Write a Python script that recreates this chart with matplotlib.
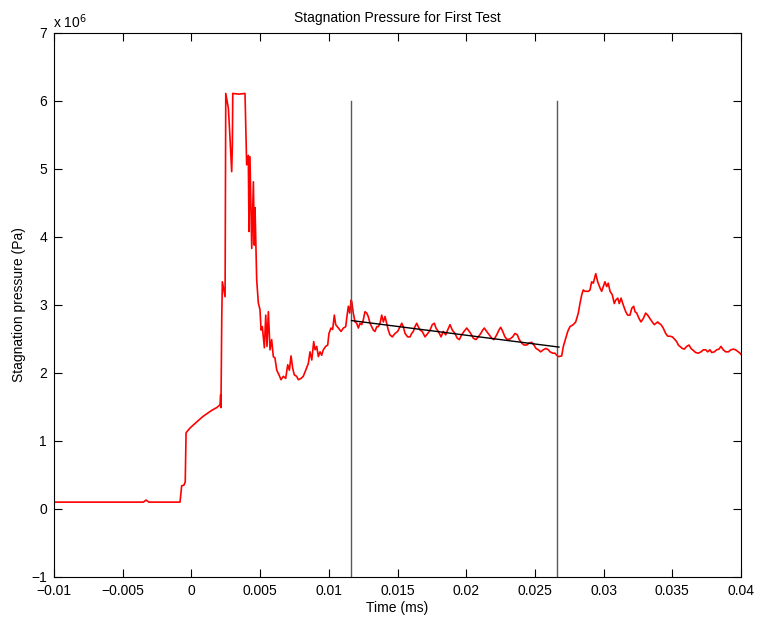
import matplotlib
matplotlib.use("Agg")
import matplotlib.pyplot as plt

plt.rcParams['font.family'] = ['Liberation Sans', 'DejaVu Sans']

# time in ms (plotted in s), pressure in MPa (plotted in Pa)
t_ms = [-10, -8, -6, -4, -3.5, -3.3, -3.1, -2, -0.85,
        -0.83, -0.71, -0.54, -0.45, -0.39, -0.10, 0.39, 0.84, 1.48, 1.84,
        2.08, 2.13, 2.15, 2.21, 2.25, 2.45, 2.50, 2.69, 2.81, 2.93, 2.98,
        3.01, 3.45, 3.90, 4.02, 4.14, 4.19, 4.26, 4.39, 4.51, 4.58, 4.63,
        4.75, 4.87, 4.99, 5.07, 5.16, 5.31, 5.41, 5.50, 5.60, 5.72, 5.84,
        5.96, 6.08, 6.21, 6.38, 6.52, 6.69, 6.86, 7.01, 7.13, 7.25, 7.37,
        7.49, 7.66, 7.78, 7.98, 8.14, 8.32, 8.51, 8.63, 8.76, 8.90, 9.00,
        9.12, 9.24, 9.36, 9.48, 9.60, 9.77, 9.92, 10.01, 10.16, 10.28,
        10.40, 10.50, 10.69, 10.89, 11.06, 11.23, 11.32, 11.42, 11.52,
        11.62, 11.67, 11.78, 11.91, 12.03, 12.15, 12.27, 12.39, 12.51,
        12.63, 12.76, 12.87, 13.00, 13.12, 13.24, 13.36, 13.49, 13.60,
        13.73, 13.85, 13.97, 14.09, 14.21, 14.33, 14.45, 14.62, 14.82,
        15.01, 15.18, 15.31, 15.42, 15.55, 15.74, 15.91, 16.03, 16.15,
        16.27, 16.40, 16.51, 16.64, 16.80, 17.00, 17.20, 17.37, 17.53,
        17.68, 17.80, 17.97, 18.17, 18.33, 18.51, 18.65, 18.82, 18.99,
        19.18, 19.35, 19.50, 19.67, 19.84, 20.04, 20.15, 20.33, 20.52,
        20.71, 20.88, 21.06, 21.20, 21.32, 21.49, 21.68, 21.86, 22.02,
        22.22, 22.41, 22.51, 22.66, 22.82, 22.99, 23.19, 23.38, 23.55,
        23.72, 23.86, 24.04, 24.21, 24.40, 24.59, 24.77, 24.93, 25.08,
        25.25, 25.42, 25.61, 25.81, 25.98, 26.10, 26.30, 26.46, 26.59,
        26.73, 26.95, 27.07, 27.24, 27.39, 27.55, 27.79, 27.97, 28.16,
        28.28, 28.41, 28.52, 28.65, 28.89, 29.01, 29.13, 29.25, 29.43,
        29.57, 29.74, 29.86, 29.98, 30.10, 30.23, 30.34, 30.47, 30.63,
        30.78, 30.88, 31.03, 31.14, 31.27, 31.43, 31.61, 31.75, 31.92,
        32.05, 32.19, 32.29, 32.41, 32.58, 32.72, 32.89, 33.06, 33.21,
        33.37, 33.54, 33.69, 33.94, 34.03, 34.18, 34.34, 34.52, 34.67,
        34.83, 35.00, 35.15, 35.32, 35.44, 35.56, 35.73, 35.87, 36.05,
        36.22, 36.36, 36.53, 36.70, 36.89, 37.09, 37.26, 37.43, 37.58,
        37.74, 37.87, 38.06, 38.23, 38.40, 38.54, 38.71, 38.89, 39.08,
        39.27, 39.44, 39.61, 39.80, 39.93, 40.05]
p_mpa = [0.10, 0.10, 0.10, 0.10, 0.10, 0.13, 0.10, 0.10, 0.10,
         0.10, 0.34, 0.35, 0.40, 1.12, 1.19, 1.28, 1.36, 1.45, 1.49,
         1.53, 1.68, 1.49, 2.85, 3.34, 3.12, 6.11, 5.89, 5.45, 4.96, 5.35,
         6.11, 6.10, 6.11, 5.06, 5.20, 4.08, 5.18, 3.83, 4.81, 3.88, 4.43,
         3.37, 3.03, 2.93, 2.63, 2.68, 2.37, 2.85, 2.39, 2.90, 2.34, 2.49,
         2.24, 2.22, 2.04, 1.97, 1.90, 1.95, 1.92, 2.12, 2.04, 2.25, 2.07,
         1.97, 1.95, 1.90, 1.92, 1.95, 2.04, 2.14, 2.31, 2.19, 2.46, 2.34,
         2.39, 2.24, 2.31, 2.26, 2.34, 2.39, 2.41, 2.58, 2.66, 2.64,
         2.85, 2.71, 2.66, 2.61, 2.66, 2.68, 2.83, 2.98, 2.88,
         3.07, 3.05, 2.88, 2.75, 2.73, 2.66, 2.73, 2.71, 2.78,
         2.90, 2.88, 2.83, 2.73, 2.68, 2.63, 2.61, 2.68, 2.68,
         2.73, 2.85, 2.75, 2.83, 2.73, 2.63, 2.56, 2.53, 2.58,
         2.61, 2.68, 2.73, 2.68, 2.58, 2.53, 2.53, 2.58, 2.61,
         2.68, 2.73, 2.68, 2.63, 2.61, 2.53, 2.58, 2.63, 2.71,
         2.73, 2.66, 2.61, 2.53, 2.61, 2.56, 2.63, 2.71, 2.63,
         2.58, 2.51, 2.49, 2.56, 2.61, 2.66, 2.63, 2.58, 2.51,
         2.49, 2.53, 2.58, 2.63, 2.66, 2.61, 2.56, 2.51, 2.49,
         2.56, 2.64, 2.67, 2.61, 2.53, 2.49, 2.50, 2.53, 2.58,
         2.56, 2.49, 2.44, 2.41, 2.41, 2.44, 2.45, 2.41, 2.36,
         2.34, 2.31, 2.34, 2.36, 2.34, 2.31, 2.29, 2.29, 2.26,
         2.24, 2.25, 2.39, 2.51, 2.61, 2.68, 2.71, 2.75, 2.88,
         3.02, 3.15, 3.22, 3.20, 3.20, 3.22, 3.34, 3.32, 3.46,
         3.34, 3.25, 3.20, 3.27, 3.34, 3.27, 3.32, 3.20, 3.15,
         3.02, 3.07, 3.10, 3.02, 3.10, 3.00, 2.90, 2.85, 2.85,
         2.95, 2.98, 2.90, 2.88, 2.80, 2.75, 2.80, 2.88, 2.85,
         2.80, 2.75, 2.71, 2.75, 2.73, 2.71, 2.66, 2.58, 2.54,
         2.54, 2.53, 2.50, 2.46, 2.41, 2.39, 2.36, 2.35, 2.39,
         2.41, 2.36, 2.33, 2.30, 2.29, 2.31, 2.34, 2.34, 2.31,
         2.34, 2.30, 2.31, 2.34, 2.35, 2.39, 2.34, 2.31, 2.31,
         2.34, 2.35, 2.34, 2.31, 2.29, 2.26]

# window markers and linear fit between them
win_ms = [11.62, 26.61]
win_top = 6.0
fit_t_ms = [11.65, 26.75]
fit_p_mpa = [2.77, 2.38]

fig = plt.figure(figsize=(7.61, 6.19), dpi=100)
ax = fig.add_axes([0.071, 0.068, 0.9027, 0.8788])

ax.plot([v * 1e-3 for v in t_ms], [v * 1e6 for v in p_mpa], color='red', lw=1.2)
for w in win_ms:
    ax.plot([w * 1e-3, w * 1e-3], [-1e6, win_top * 1e6], color='0.35', lw=1.0)
ax.plot([v * 1e-3 for v in fit_t_ms], [v * 1e6 for v in fit_p_mpa], color='black', lw=1.0)

ax.set_xlim(-0.01, 0.04)
ax.set_ylim(-1e6, 7e6)
xt = [-0.01, -0.005, 0, 0.005, 0.01, 0.015, 0.02, 0.025, 0.03, 0.035, 0.04]
ax.set_xticks(xt)
ax.set_xticklabels(['\u22120.01', '\u22120.005', '0', '0.005', '0.01', '0.015',
                    '0.02', '0.025', '0.03', '0.035', '0.04'])
yt = list(range(-1, 8))
ax.set_yticks([v * 1e6 for v in yt])
ax.set_yticklabels(['\u22121' if v < 0 else str(v) for v in yt])
ax.tick_params(direction='in', top=True, right=True, length=6, width=0.8,
               labelsize=10, pad=5)
for s in ax.spines.values():
    s.set_linewidth(0.8)

ax.text(-0.002, 1.004, r'x 10$^{6}$', transform=ax.transAxes, fontsize=10,
        ha='left', va='bottom')
ax.set_title('Stagnation Pressure for First Test', fontsize=10, pad=8)
ax.set_xlabel('Time (ms)', fontsize=10, labelpad=2)
ax.set_ylabel('Stagnation pressure (Pa)', fontsize=10, labelpad=4)

fig.savefig('out.png', dpi=100)
